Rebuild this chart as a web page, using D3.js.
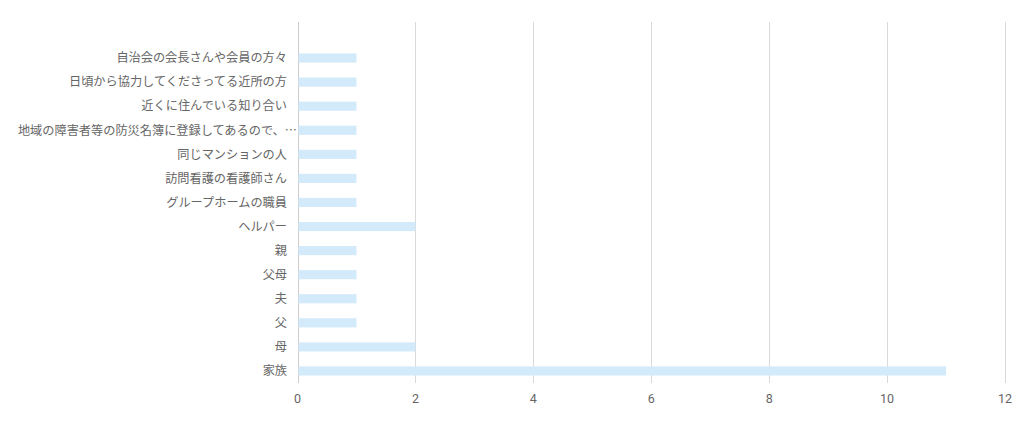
<!DOCTYPE html>
<html>
<head>
<meta charset="utf-8">
<script src="https://cdn.jsdelivr.net/npm/d3@7"></script>
<style>
  body { margin: 0; background: #fff; }
  text { font-family: "Noto Sans CJK JP", "Noto Sans", sans-serif; }
</style>
</head>
<body>
<div id="chart"></div>
<script>
// categories top to bottom
var categories = [
  "自治会の会長さんや会員の方々",
  "日頃から協力してくださってる近所の方",
  "近くに住んでいる知り合い",
  "地域の障害者等の防災名簿に登録してあるので、…",
  "同じマンションの人",
  "訪問看護の看護師さん",
  "グループホームの職員",
  "ヘルパー",
  "親",
  "父母",
  "夫",
  "父",
  "母",
  "家族"
];
var counts = [1, 1, 1, 1, 1, 1, 1, 2, 1, 1, 1, 1, 2, 11];
var xTicks = [0, 2, 4, 6, 8, 10, 12];

var width = 1024, height = 426;
var plotLeft = 297.5, plotRight = 1005, gridTop = 22, gridBottom = 383;

var svg = d3.select("#chart").append("svg")
  .attr("width", width)
  .attr("height", height);

var xScale = d3.scaleLinear().domain([0, 12]).range([plotLeft, plotRight]);
var yScale = d3.scaleBand().domain(categories).range([46, 383]).paddingInner(0.62).paddingOuter(0.31);

// gridlines
svg.append("g").selectAll("line")
  .data(xTicks)
  .enter().append("line")
    .attr("x1", function(d) { return Math.round(xScale(d)) + 0.5; })
    .attr("x2", function(d) { return Math.round(xScale(d)) + 0.5; })
    .attr("y1", gridTop)
    .attr("y2", gridBottom)
    .style("stroke", function(d) { return d == 0 ? "#cccccc" : "#d9d9d9"; })
    .style("stroke-width", 1);

// bars
svg.append("g").selectAll("rect")
  .data(categories)
  .enter().append("rect")
    .attr("x", xScale(0) + 1)
    .attr("y", function(d) { return yScale(d); })
    .attr("width", function(d, i) { return xScale(counts[i]) - xScale(0) - 1; })
    .attr("height", yScale.bandwidth())
    .style("fill", "#d3eafb");

// category labels (truncated one runs up to the axis)
svg.append("g").selectAll("text")
  .data(categories)
  .enter().append("text")
    .attr("x", function(d) { return d.slice(-1) == "…" ? 297 : 287; })
    .attr("y", function(d) { return yScale(d) + yScale.bandwidth() / 2; })
    .attr("dy", "0.35em")
    .attr("text-anchor", "end")
    .style("font-size", "12.2px")
    .style("fill", "#666")
    .text(function(d) { return d; });

// x tick labels
svg.append("g").selectAll("text")
  .data(xTicks)
  .enter().append("text")
    .attr("x", function(d) { return xScale(d); })
    .attr("y", 399)
    .attr("dy", "0.35em")
    .attr("text-anchor", "middle")
    .style("font-family", "Roboto, sans-serif")
    .style("font-size", "12.5px")
    .style("fill", "#666")
    .text(function(d) { return d; });
</script>
</body>
</html>
